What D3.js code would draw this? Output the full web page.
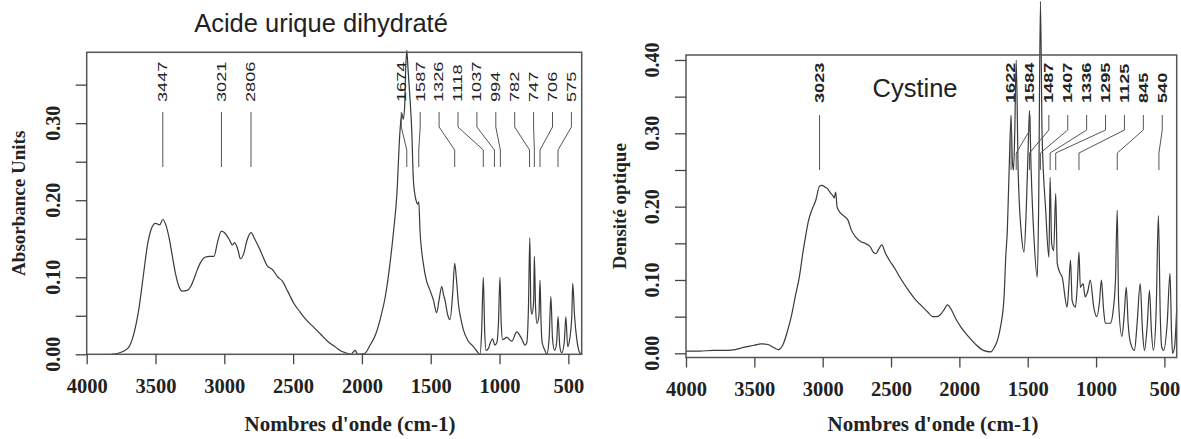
<!DOCTYPE html>
<html>
<head>
<meta charset="utf-8">
<script src="https://cdn.jsdelivr.net/npm/d3@7"></script>
<style>
  body { margin: 0; background: #fff; }
  svg { display: block; }
</style>
</head>
<body>
<div id="container"></div>
<script>
// ---- data ----
const xTickValues = [4000, 3500, 3000, 2500, 2000, 1500, 1000, 500];

const acideWn = [3820, 3760, 3700, 3660, 3620, 3590, 3560, 3530, 3500, 3470, 3447, 3425, 3400, 3380, 3355, 3330, 3305, 3270, 3244, 3220,
  3200, 3170, 3140, 3106, 3075, 3050, 3021, 3000, 2967, 2940, 2925, 2900, 2883, 2860, 2835, 2806, 2780, 2744, 2715, 2689,
  2650, 2610, 2578, 2540, 2494, 2450, 2411, 2350, 2300, 2250, 2189, 2150, 2119, 2080, 2050, 2030, 1981, 1940, 1900, 1868,
  1830, 1796, 1770, 1747, 1723, 1710, 1700, 1690, 1682, 1674, 1665, 1650, 1638, 1626, 1607, 1595, 1587, 1578, 1554, 1530,
  1505, 1480, 1457, 1440, 1420, 1408, 1396, 1378, 1360, 1340, 1326, 1312, 1299, 1280, 1263, 1230, 1190, 1160, 1142, 1130,
  1118, 1108, 1098, 1080, 1069, 1050, 1035, 1020, 1008, 997, 988, 977, 948, 911, 875, 839, 815, 802, 790, 780,
  772, 764, 752, 747, 738, 728, 714, 706, 698, 690, 670, 657, 640, 627, 615, 600, 585, 575, 562, 548,
  530, 518, 505, 490, 475, 468, 455, 439, 420, 405];
const acideAbs = [0.000, 0.002, 0.008, 0.025, 0.060, 0.100, 0.140, 0.163, 0.170, 0.168, 0.175, 0.168, 0.150, 0.130, 0.105, 0.088, 0.082, 0.083, 0.088, 0.098,
  0.108, 0.120, 0.126, 0.127, 0.127, 0.145, 0.160, 0.158, 0.150, 0.142, 0.145, 0.135, 0.124, 0.130, 0.148, 0.158, 0.150, 0.137, 0.125, 0.115,
  0.110, 0.100, 0.095, 0.082, 0.066, 0.055, 0.046, 0.035, 0.026, 0.017, 0.009, 0.004, 0.002, 0.000, 0.005, 0.000, 0.001, 0.012, 0.026, 0.045,
  0.075, 0.118, 0.160, 0.205, 0.291, 0.313, 0.305, 0.320, 0.370, 0.395, 0.370, 0.330, 0.291, 0.226, 0.200, 0.195, 0.198, 0.161, 0.118, 0.095,
  0.083, 0.070, 0.054, 0.070, 0.088, 0.078, 0.070, 0.052, 0.045, 0.080, 0.118, 0.095, 0.066, 0.045, 0.032, 0.018, 0.010, 0.003, 0.000, 0.030,
  0.100, 0.030, 0.005, 0.008, 0.014, 0.020, 0.012, 0.015, 0.040, 0.100, 0.040, 0.019, 0.022, 0.017, 0.029, 0.020, 0.012, 0.015, 0.060, 0.151,
  0.060, 0.052, 0.070, 0.127, 0.060, 0.040, 0.050, 0.096, 0.040, 0.015, 0.005, 0.000, 0.020, 0.075, 0.020, 0.005, 0.015, 0.049, 0.010, 0.002,
  0.015, 0.049, 0.010, 0.020, 0.050, 0.092, 0.050, 0.020, 0.003, 0.000];
const acidePeaks = [3447, 3021, 2806, 1674, 1587, 1326, 1118, 1037, 994, 782, 747, 706, 575];
const acideYTicks = [0, 0.05, 0.10, 0.15, 0.20, 0.25, 0.30, 0.35];
const acideYLabels = [0, 0.10, 0.20, 0.30];

const cystineWn = [4000, 3900, 3800, 3700, 3640, 3580, 3500, 3450, 3400, 3360, 3324, 3290, 3255, 3230, 3201, 3170, 3146, 3120, 3105, 3080,
  3050, 3023, 3008, 2985, 2967, 2940, 2926, 2915, 2905, 2895, 2884, 2850, 2816, 2790, 2761, 2720, 2690, 2651, 2630, 2610,
  2590, 2568, 2540, 2512, 2470, 2430, 2380, 2320, 2267, 2230, 2196, 2170, 2143, 2110, 2088, 2060, 2034, 1990, 1934, 1880,
  1825, 1770, 1745, 1721, 1700, 1673, 1660, 1649, 1636, 1622, 1612, 1604, 1595, 1584, 1570, 1545, 1527, 1510, 1495, 1487,
  1475, 1455, 1430, 1420, 1407, 1395, 1386, 1370, 1345, 1336, 1325, 1310, 1295, 1284, 1265, 1248, 1212, 1200, 1187, 1175,
  1151, 1138, 1125, 1115, 1095, 1080, 1060, 1042, 1017, 995, 975, 961, 945, 932, 896, 872, 858, 845, 835, 811,
  795, 779, 765, 750, 719, 700, 677, 660, 646, 625, 609, 595, 580, 560, 544, 530, 520, 505, 480, 459,
  448, 440, 425, 410];
const cystineAbs = [0.003, 0.003, 0.004, 0.004, 0.005, 0.008, 0.011, 0.013, 0.012, 0.008, 0.005, 0.012, 0.032, 0.050, 0.077, 0.105, 0.136, 0.165, 0.180, 0.195,
  0.209, 0.228, 0.229, 0.227, 0.225, 0.218, 0.215, 0.212, 0.220, 0.200, 0.195, 0.188, 0.182, 0.168, 0.159, 0.152, 0.150, 0.145, 0.138, 0.136,
  0.142, 0.148, 0.136, 0.127, 0.115, 0.102, 0.088, 0.073, 0.063, 0.056, 0.050, 0.050, 0.052, 0.060, 0.066, 0.060, 0.050, 0.036, 0.023, 0.012,
  0.004, 0.002, 0.008, 0.018, 0.035, 0.077, 0.134, 0.168, 0.250, 0.322, 0.260, 0.250, 0.300, 0.400, 0.250, 0.160, 0.138, 0.200, 0.290, 0.331,
  0.250, 0.160, 0.104, 0.200, 0.480, 0.300, 0.250, 0.200, 0.131, 0.240, 0.150, 0.140, 0.218, 0.123, 0.110, 0.104, 0.063, 0.090, 0.127, 0.072,
  0.063, 0.090, 0.138, 0.090, 0.095, 0.077, 0.085, 0.100, 0.063, 0.050, 0.070, 0.100, 0.060, 0.041, 0.041, 0.063, 0.100, 0.195, 0.070, 0.023,
  0.050, 0.090, 0.040, 0.016, 0.004, 0.040, 0.095, 0.030, 0.004, 0.040, 0.086, 0.030, 0.004, 0.060, 0.188, 0.050, 0.009, 0.004, 0.040, 0.109,
  0.030, 0.000, 0.010, 0.060];
const cystinePeaks = [3023, 1622, 1584, 1487, 1407, 1336, 1295, 1125, 845, 540];
const cystineYTicks = [0, 0.05, 0.10, 0.15, 0.20, 0.25, 0.30, 0.35, 0.40];
const cystineYLabels = [0, 0.10, 0.20, 0.30, 0.40];

const xTitle = "Nombres d'onde (cm-1)";

// ---- layout ----
const width = 1181;
const height = 439;
const serif = "'Liberation Serif', 'Times New Roman', serif";
const sans = "'Liberation Sans', Arial, sans-serif";

const svg = d3.select('#container')
  .append('svg')
  .attr('width', width)
  .attr('height', height)
  .attr('viewBox', [0, 0, width, height]);

const panels = [
  {
    wn: acideWn, val: acideAbs, peaks: acidePeaks, yTicks: acideYTicks, yLabels: acideYLabels,
    title: 'Acide urique dihydraté', titleX: 321, titleY: 32,
    yTitle: 'Absorbance Units', yTitleX: 19, yLabelX: 53,
    left: 86.7, right: 581.7, top: 52.3, bottom: 354.3,
    wnMin: 403, vMin: 0, vMax: 0.392,
    xTitleX: 350, labelTop: 112, textBase: 102, labelWeight: 'normal'
  },
  {
    wn: cystineWn, val: cystineAbs, peaks: cystinePeaks, yTicks: cystineYTicks, yLabels: cystineYLabels,
    title: 'Cystine', titleX: 915, titleY: 96.5,
    yTitle: 'Densité optique', yTitleX: 620, yLabelX: 652,
    left: 686, right: 1176.7, top: 55, bottom: 357.5,
    wnMin: 410, vMin: -0.0057, vMax: 0.4068,
    xTitleX: 933, labelTop: 115, textBase: 103, labelWeight: 'bold'
  }
];

panels.forEach(p => {
  const x = d3.scaleLinear().domain([4000, p.wnMin]).range([p.left, p.right]);
  const y = d3.scaleLinear().domain([p.vMin, p.vMax]).range([p.bottom, p.top]);
  const g = svg.append('g');

  // spectrum
  const pts = p.wn.map((w, i) => [w, p.val[i]]);
  g.append('path')
    .datum(pts)
    .attr('fill', 'none')
    .attr('stroke', '#3a3a3a')
    .attr('stroke-width', 1.2)
    .attr('stroke-linejoin', 'round')
    .attr('d', d3.line().x(d => x(d[0])).y(d => y(d[1])).curve(d3.curveMonotoneX));

  // frame
  g.append('rect')
    .attr('x', p.left).attr('y', p.top)
    .attr('width', p.right - p.left).attr('height', p.bottom - p.top)
    .attr('fill', 'none').attr('stroke', '#555').attr('stroke-width', 1.5);

  // x axis
  const xAxis = g.append('g')
    .attr('transform', `translate(0,${p.bottom})`)
    .call(d3.axisBottom(x).tickValues(xTickValues).tickSize(10).tickPadding(14).tickFormat(d3.format('d')));
  xAxis.select('.domain').remove();
  xAxis.selectAll('line').attr('stroke', '#444').attr('stroke-width', 1.3);
  xAxis.selectAll('text')
    .attr('font-family', serif).attr('font-weight', 'bold').attr('font-size', 20.5)
    .attr('fill', '#222');

  // y axis ticks
  g.append('g')
    .attr('transform', `translate(${p.left},0)`)
    .call(d3.axisLeft(y).tickValues(p.yTicks).tickSize(11).tickFormat(''))
    .call(a => a.select('.domain').remove())
    .selectAll('line').attr('stroke', '#444').attr('stroke-width', 1.3);

  // y tick labels, rotated
  g.append('g')
    .selectAll('text')
    .data(p.yLabels)
    .join('text')
    .attr('transform', d => `translate(${p.yLabelX},${y(d)}) rotate(-90)`)
    .attr('text-anchor', 'middle')
    .attr('dy', '0.33em')
    .attr('font-family', serif).attr('font-weight', 'bold').attr('font-size', 20)
    .attr('fill', '#222')
    .text(d3.format('.2f'));

  // axis titles
  g.append('text')
    .attr('transform', `translate(${p.yTitleX},${(p.top + p.bottom) / 2}) rotate(-90)`)
    .attr('text-anchor', 'middle')
    .attr('dy', '0.33em')
    .attr('font-family', serif).attr('font-weight', 'bold').attr('font-size', 19)
    .attr('fill', '#222')
    .text(p.yTitle);

  g.append('text')
    .attr('x', p.xTitleX).attr('y', 431)
    .attr('text-anchor', 'middle')
    .attr('font-family', serif).attr('font-weight', 'bold').attr('font-size', 21)
    .attr('fill', '#222')
    .text(xTitle);

  g.append('text')
    .attr('x', p.titleX).attr('y', p.titleY)
    .attr('text-anchor', 'middle')
    .attr('font-family', sans).attr('font-size', 25.5)
    .attr('fill', '#222')
    .text(p.title);

  // peak labels: spread so they do not overlap, then bent leader lines
  const gap = 18.9;
  const limit = p.right - 10.3;
  const lx = p.peaks.map(w => x(w));
  for (let i = 1; i < lx.length; i++) lx[i] = Math.max(lx[i], lx[i - 1] + gap);
  if (lx[lx.length - 1] > limit) {
    lx[lx.length - 1] = limit;
    for (let i = lx.length - 2; i >= 0; i--) lx[i] = Math.min(lx[i], lx[i + 1] - gap);
  }
  const bend1 = p.labelTop + 15;
  const bend2 = p.labelTop + 38;
  const lineBottom = p.labelTop + 55;

  const lab = g.append('g');
  lab.selectAll('path')
    .data(p.peaks)
    .join('path')
    .attr('fill', 'none')
    .attr('stroke', '#555')
    .attr('stroke-width', 1)
    .attr('d', (w, i) => d3.line()([
      [lx[i], p.labelTop], [lx[i], bend1], [x(w), bend2], [x(w), lineBottom]
    ]));

  lab.selectAll('text')
    .data(p.peaks)
    .join('text')
    .attr('transform', (w, i) => `translate(${lx[i]},${p.textBase}) rotate(-90) scale(1.45,1)`)
    .attr('text-anchor', 'start')
    .attr('dy', '0.35em')
    .attr('font-family', sans).attr('font-size', 12.5)
    .attr('font-weight', p.labelWeight)
    .attr('fill', '#222')
    .text(d => d);
});
</script>
</body>
</html>
